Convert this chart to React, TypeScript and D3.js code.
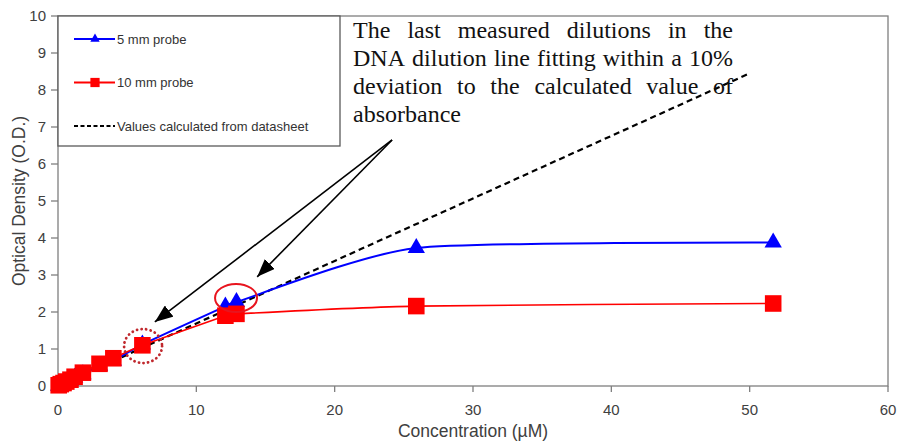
import React, { useEffect, useRef } from 'react';
import * as d3 from 'd3';

// values
const concentration = [0.05, 0.2, 0.4, 0.6, 0.9, 1.2, 1.8, 3.0, 4.0, 6.1, 12.1, 12.9, 25.9, 51.7];
const probe5mm = [0.01, 0.04, 0.07, 0.1, 0.15, 0.22, 0.32, 0.55, 0.68, 1.12, 2.15, 2.27, 3.73, 3.88];
const probe10mm = [0.02, 0.05, 0.08, 0.12, 0.17, 0.25, 0.36, 0.6, 0.75, 1.1, 1.9, 1.95, 2.16, 2.23];
const datasheetX = [0, 50];
const datasheetY = [0, 8.45];

const xTicks = [0, 10, 20, 30, 40, 50, 60];
const yTicks = [0, 1, 2, 3, 4, 5, 6, 7, 8, 9, 10];

const legendLabels = ['5 mm probe', '10 mm probe', 'Values calculated from datasheet'];
const noteLines = [
  'The last measured dilutions in the',
  'DNA dilution line fitting within a 10%',
  'deviation to the calculated value of',
  'absorbance',
];
// annotation anchors in data units
const arrowStart = [24.15, 6.65];
const arrowTips = [[7.0, 1.73], [14.4, 2.95]];
const solidRing = [12.87, 2.38];
const dottedRing = [6.15, 1.08];

const W = 898;
const H = 441;

export default function App() {
  const noteRef = useRef<SVGGElement>(null);

  const x = d3.scaleLinear().domain([0, 60]).range([58, 888]);
  const y = d3.scaleLinear().domain([0, 10]).range([386, 16]);

  const rows5 = concentration.map((c, i) => [c, probe5mm[i]]);
  const rows10 = concentration.map((c, i) => [c, probe10mm[i]]);

  // smoothed line, a bit stiffer than plain catmull-rom so it does not overshoot
  const smooth = d3.line<number[]>()
    .x(d => x(d[0]))
    .y(d => y(d[1]))
    .curve(d3.curveCardinal.tension(0.4));
  const straight = d3.line<number[]>().x(d => x(d[0])).y(d => y(d[1]));

  const tri = d3.symbol(d3.symbolTriangle, 130)();
  const sq = d3.symbol(d3.symbolSquare, 275)();
  const triSmall = d3.symbol(d3.symbolTriangle, 38)();
  const sqSmall = d3.symbol(d3.symbolSquare, 85)();

  // justify the note text like the original text box
  useEffect(() => {
    const g = d3.select(noteRef.current);
    g.selectAll('*').remove();
    const left = 353, right = 733, top = 38, leading = 28;
    noteLines.forEach((line, i) => {
      const words = line.split(' ');
      const nodes = words.map(w =>
        g.append('text').attr('y', top + i * leading).text(w)
      );
      const widths = nodes.map(n => (n.node() as SVGTextElement).getComputedTextLength());
      const total = d3.sum(widths);
      const last = i === noteLines.length - 1;
      const gap = last || words.length < 2 ? 6 : (right - left - total) / (words.length - 1);
      let cx = left;
      nodes.forEach((n, j) => {
        n.attr('x', cx);
        cx += widths[j] + gap;
      });
    });
  }, []);

  const axisColor = '#7f7f7f';
  const labelColor = '#404040';

  return (
    <svg width={W} height={H} style={{ position: 'absolute', left: 0, top: 0, background: '#fff' }}
      fontFamily="Liberation Sans, Arial, sans-serif">
      <defs>
        <marker id="head" markerUnits="userSpaceOnUse" markerWidth={20} markerHeight={14}
          refX={18} refY={7} orient="auto">
          <path d="M0,0 L18,7 L0,14 Z" fill="#000" />
        </marker>
      </defs>

      {/* frame */}
      <rect x={x(0)} y={y(10)} width={x(60) - x(0)} height={y(0) - y(10)}
        fill="none" stroke={axisColor} strokeWidth={1.3} />

      {/* y axis */}
      {yTicks.map(t => (
        <g key={'y' + t}>
          <line x1={x(0) - 7} x2={x(0)} y1={y(t)} y2={y(t)} stroke={axisColor} strokeWidth={1.3} />
          <text x={x(0) - 12} y={y(t)} dy="0.35em" textAnchor="end" fontSize={15} fill={labelColor}>{t}</text>
        </g>
      ))}
      {/* x axis */}
      {xTicks.map(t => (
        <g key={'x' + t}>
          <line x1={x(t)} x2={x(t)} y1={y(0)} y2={y(0) + 6} stroke={axisColor} strokeWidth={1.3} />
          <text x={x(t)} y={y(0) + 29} textAnchor="middle" fontSize={15} fill={labelColor}>{t}</text>
        </g>
      ))}

      <text x={(x(0) + x(60)) / 2} y={437} textAnchor="middle" fontSize={17.5} fill={labelColor}>
        Concentration (µM)
      </text>
      <text transform={`translate(25,${(y(0) + y(10)) / 2}) rotate(-90)`} textAnchor="middle"
        fontSize={17.5} fill={labelColor}>Optical Density (O.D.)</text>

      {/* datasheet line */}
      <path d={straight(datasheetX.map((v, i) => [v, datasheetY[i]])) || ''}
        fill="none" stroke="#000" strokeWidth={2.2} strokeDasharray="6 4" />

      {/* 5 mm probe */}
      <path d={smooth(rows5) || ''} fill="none" stroke="#0000ff" strokeWidth={2} />
      {rows5.map((d, i) => (
        <path key={'t' + i} d={tri || ''} transform={`translate(${x(d[0])},${y(d[1])})`} fill="#0000ff" />
      ))}

      {/* 10 mm probe */}
      <path d={smooth(rows10) || ''} fill="none" stroke="#ff0000" strokeWidth={1.6} />
      {rows10.map((d, i) => (
        <path key={'s' + i} d={sq || ''} transform={`translate(${x(d[0])},${y(d[1])})`} fill="#ff0000" />
      ))}

      {/* rings */}
      <ellipse cx={x(solidRing[0])} cy={y(solidRing[1])} rx={21} ry={14}
        fill="none" stroke="#e8141e" strokeWidth={2} />
      <ellipse cx={x(dottedRing[0])} cy={y(dottedRing[1])} rx={19} ry={17}
        fill="none" stroke="#c0282d" strokeWidth={2.8} strokeDasharray="0.1 4.5" strokeLinecap="round" />

      {/* arrows */}
      {arrowTips.map((t, i) => (
        <line key={'a' + i} x1={x(arrowStart[0])} y1={y(arrowStart[1])} x2={x(t[0])} y2={y(t[1])}
          stroke="#000" strokeWidth={1.6} markerEnd="url(#head)" />
      ))}

      {/* legend */}
      <rect x={x(0)} y={y(10)} width={282} height={130} fill="#fff" stroke="#595959" strokeWidth={1.3} />
      {legendLabels.map((lab, i) => {
        const ly = 39 + i * 43.5;
        return (
          <g key={lab}>
            <line x1={74} x2={115} y1={ly} y2={ly}
              stroke={i === 0 ? '#0000ff' : i === 1 ? '#ff0000' : '#000'}
              strokeWidth={i === 2 ? 2 : 1.8} strokeDasharray={i === 2 ? '4 2.5' : undefined} />
            {i === 0 && <path d={triSmall || ''} transform={`translate(95,${ly})`} fill="#0000ff" />}
            {i === 1 && <path d={sqSmall || ''} transform={`translate(95,${ly})`} fill="#ff0000" />}
            <text x={117} y={ly} dy="0.35em" fontSize={13} fill="#333">{lab}</text>
          </g>
        );
      })}

      {/* note */}
      <g ref={noteRef} fontFamily="Liberation Serif, Times New Roman, serif" fontSize={24} fill="#111" />
    </svg>
  );
}
